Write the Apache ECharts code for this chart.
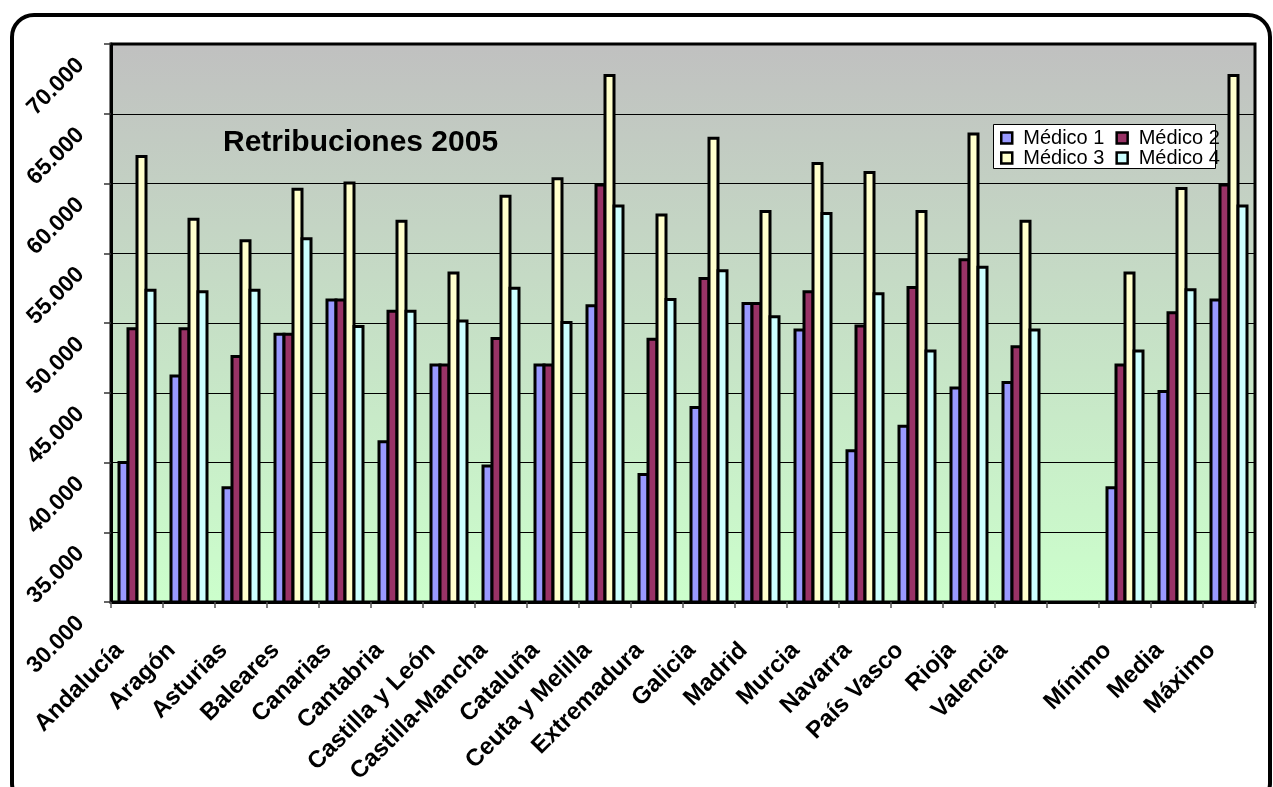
<!DOCTYPE html>
<html>
<head>
<meta charset="utf-8">
<script src="https://cdn.jsdelivr.net/npm/echarts@6/dist/echarts.min.js"></script>
<style>
  html, body { margin: 0; padding: 0; background: #fff; }
  #chart { width: 1273px; height: 787px; }
</style>
</head>
<body>
<div id="chart"></div>
<script>
const categories = ['Andalucía','Aragón','Asturias','Baleares','Canarias','Cantabria','Castilla y León','Castilla-Mancha','Cataluña','Ceuta y Melilla','Extremadura','Galicia','Madrid','Murcia','Navarra','País Vasco','Rioja','Valencia','','Mínimo','Media','Máximo'];
const seriesNames = ['Médico 1','Médico 2','Médico 3','Médico 4'];
const medico1 = [40100, 46300, 38300, 49300, 51750, 41600, 47100, 39850, 47100, 51350, 39250, 44050, 51500, 49600, 40950, 42700, 45450, 45850, null, 38300, 45200, 51750];
const medico2 = [49700, 49700, 47700, 49300, 51750, 50950, 47100, 49000, 47100, 60000, 48950, 53300, 51500, 52350, 49900, 52650, 54650, 48400, null, 47100, 50850, 60000];
const medico3 = [62050, 57550, 56000, 59700, 60150, 57400, 53700, 59200, 60450, 67850, 57850, 63350, 58100, 61550, 60900, 58100, 63650, 57400, null, 53700, 59750, 67850];
const medico4 = [52450, 52350, 52450, 56150, 49850, 50950, 50250, 52600, 50150, 58500, 51800, 53850, 50550, 57950, 52200, 48100, 54100, 49600, null, 48100, 52500, 58500];
const yMin = 30000, yMax = 70000, yStep = 5000;
const yTickLabels = ['30.000','35.000','40.000','45.000','50.000','55.000','60.000','65.000','70.000'];
const titleText = 'Retribuciones 2005';

const colors = ['#9999FF', '#993366', '#FFFFCC', '#CCFFFF'];
const font = "'Liberation Sans', Arial, sans-serif";

const chart = echarts.init(document.getElementById('chart'), null, {renderer: 'canvas'});
const allData = [medico1, medico2, medico3, medico4];

const legendCommon = {
  orient: 'horizontal',
  left: 1000,
  padding: 0,
  itemGap: 11,
  itemWidth: 11,
  itemHeight: 11,
  icon: 'rect',
  z: 10,
  itemStyle: { borderColor: '#000', borderWidth: 2.5 },
  textStyle: { fontSize: 20, color: '#000', fontFamily: font, padding: [0, 0, 0, 6] }
};

chart.setOption({
  animation: false,
  backgroundColor: '#ffffff',
  textStyle: { fontFamily: font },
  title: {
    text: titleText,
    left: 218, top: 123,
    textStyle: { fontSize: 30, fontWeight: 'bold', color: '#000', fontFamily: font }
  },
  legend: [
    Object.assign({}, legendCommon, { data: [seriesNames[0], seriesNames[1]], top: 128 }),
    Object.assign({}, legendCommon, { data: [seriesNames[2], seriesNames[3]], top: 148 })
  ],
  grid: {
    left: 111, right: 18, top: 44, bottom: 185,
    containLabel: false,
    outerBoundsMode: 'none',
    show: true,
    borderColor: '#000',
    borderWidth: 3,
    backgroundColor: {
      type: 'linear', x: 0, y: 0, x2: 0, y2: 1,
      colorStops: [{offset: 0, color: '#C0C0C0'}, {offset: 1, color: '#CCFFCC'}]
    }
  },
  xAxis: {
    type: 'category',
    data: categories,
    axisLine: { show: true, lineStyle: { color: '#000', width: 3 } },
    axisTick: { show: true, length: 6, lineStyle: { color: '#555', width: 1.5 } },
    axisLabel: {
      interval: 0, rotate: 45, margin: 43,
      fontSize: 24, fontWeight: 'bold', color: '#000', fontFamily: font,
      lineHeight: 22,
      formatter: v => v + '\u00a0\u00a0\n'
    },
    splitLine: { show: false }
  },
  yAxis: [
    {
      type: 'value',
      min: yMin, max: yMax, interval: yStep,
      axisLine: { show: true, lineStyle: { color: '#000', width: 3 } },
      axisTick: { show: true, length: 7, lineStyle: { color: '#333', width: 1.5 } },
      axisLabel: { show: false },
      splitLine: { show: true, lineStyle: { color: '#000', width: 1 } }
    },
    {
      type: 'category',
      data: yTickLabels,
      boundaryGap: false,
      position: 'left',
      axisLine: { show: false },
      axisTick: { show: false },
      splitLine: { show: false },
      axisLabel: {
        interval: 0, rotate: 45, margin: 48,
        fontSize: 23, fontWeight: 'bold', color: '#000', fontFamily: font,
        lineHeight: 50,
        formatter: v => '\n' + v
      }
    }
  ],
  series: seriesNames.map((name, i) => ({
    name: name,
    type: 'bar',
    yAxisIndex: 0,
    data: allData[i],
    barWidth: 12,
    barGap: '-25%',
    itemStyle: { color: colors[i], borderColor: '#000', borderWidth: 3 }
  })),
  graphic: [
    {
      type: 'rect',
      shape: { x: 993.5, y: 124.5, width: 222, height: 44 },
      style: { fill: '#fff', stroke: '#000', lineWidth: 1 },
      silent: true, z: 5
    },
    {
      type: 'rect',
      shape: { x: 12, y: 15, width: 1258, height: 790, r: 22 },
      style: { fill: 'none', stroke: '#000', lineWidth: 4 },
      silent: true, z: 100
    }
  ]
});
</script>
</body>
</html>
